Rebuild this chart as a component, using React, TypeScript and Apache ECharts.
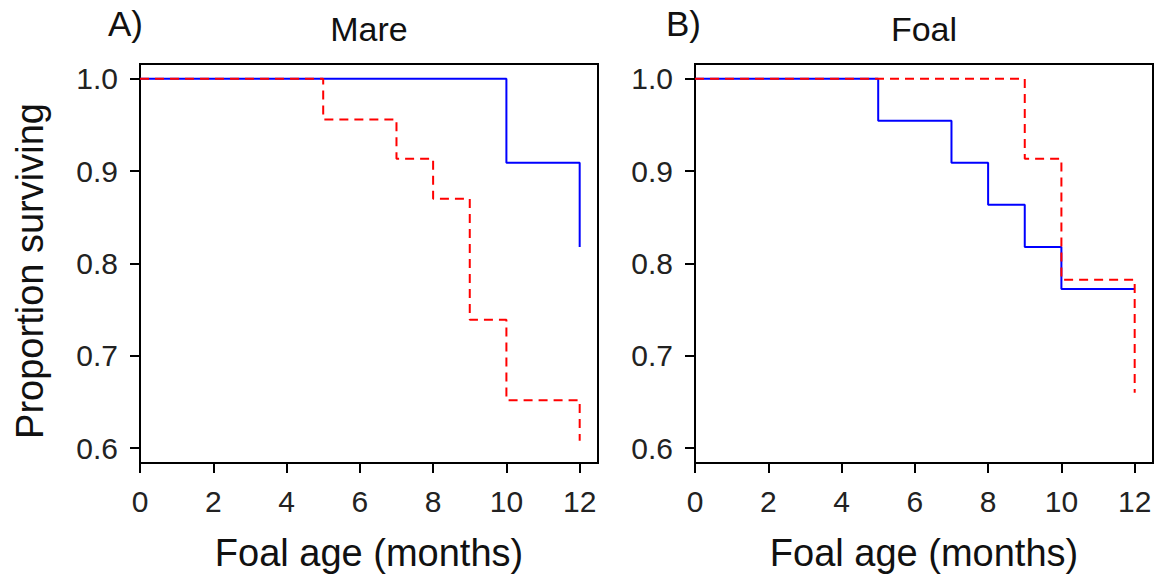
import React, { useEffect, useRef } from "react";
import * as echarts from "echarts";

const xTicks = [0, 2, 4, 6, 8, 10, 12];
const yTicks = [0.6, 0.7, 0.8, 0.9, 1.0];

const mareBlueTimes = [0, 10, 12];
const mareBlueSurv = [1.0, 0.909, 0.818];
const mareRedTimes = [0, 5, 7, 8, 9, 10, 12];
const mareRedSurv = [1.0, 0.956, 0.9135, 0.87, 0.739, 0.652, 0.608];

const foalBlueTimes = [0, 5, 7, 8, 9, 10, 12];
const foalBlueSurv = [1.0, 0.9546, 0.909, 0.8635, 0.818, 0.7724, 0.7724];
const foalRedTimes = [0, 9, 10, 12];
const foalRedSurv = [1.0, 0.9135, 0.7825, 0.66];

const panelTitles = ["Mare", "Foal"];
const panelLetters = ["A)", "B)"];
const xTitle = "Foal age (months)";
const yTitle = "Proportion surviving";

const FONT = "'Liberation Sans', Arial, sans-serif";

const zip = (t: number[], s: number[]) => t.map((v, i) => [v, s[i]]);

export default function App() {
  const ref = useRef<HTMLDivElement>(null);

  useEffect(() => {
    if (!ref.current) return;
    const chart = echarts.init(ref.current, undefined, { renderer: "svg" });

    const grids = [
      { left: 140, top: 64, width: 458, height: 403 },
      { left: 695, top: 64, width: 458, height: 403 },
    ];

    const xAxis = grids.map((_, i) => ({
      type: "value",
      gridIndex: i,
      min: 0,
      max: 12.5,
      axisLine: { show: true, lineStyle: { color: "#000", width: 2 } },
      axisTick: {
        show: true,
        length: 10,
        customValues: xTicks,
        lineStyle: { color: "#000", width: 2 },
      },
      axisLabel: {
        customValues: xTicks,
        fontSize: 30,
        color: "#222",
        margin: 23,
        fontFamily: FONT,
      },
      splitLine: { show: false },
      name: xTitle,
      nameLocation: "middle",
      nameGap: 71,
      nameTextStyle: { fontSize: 38, color: "#111", fontFamily: FONT },
    }));

    const yAxis = grids.map((_, i) => ({
      type: "value",
      gridIndex: i,
      min: 0.584,
      max: 1.016,
      axisLine: { show: true, lineStyle: { color: "#000", width: 2 } },
      axisTick: {
        show: true,
        length: 10,
        customValues: yTicks,
        lineStyle: { color: "#000", width: 2 },
      },
      axisLabel: {
        customValues: yTicks,
        fontSize: 30,
        color: "#222",
        margin: 22,
        fontFamily: FONT,
        formatter: (v: number) => v.toFixed(1),
      },
      splitLine: { show: false },
    }));

    const blue = { color: "#0000ff", width: 2 };
    const red = { color: "#ff0000", width: 2, type: [9, 6] };

    const mk = (name: string, idx: number, data: number[][], ls: any) => ({
      name,
      type: "line",
      xAxisIndex: idx,
      yAxisIndex: idx,
      step: "end",
      symbol: "none",
      showSymbol: false,
      data,
      lineStyle: ls,
      itemStyle: { color: ls.color },
    });

    const graphic: any[] = [];
    grids.forEach((g, i) => {
      graphic.push({
        type: "text",
        x: g.left + g.width / 2,
        y: 12,
        style: {
          text: panelTitles[i],
          font: `34px ${FONT}`,
          fill: "#111",
          textAlign: "center",
          textVerticalAlign: "top",
        },
      });
      graphic.push({
        type: "text",
        x: i === 0 ? 108 : 666,
        y: 6,
        style: {
          text: panelLetters[i],
          font: `35px ${FONT}`,
          fill: "#111",
          textAlign: "left",
          textVerticalAlign: "top",
        },
      });
    });
    graphic.push({
      type: "text",
      x: 30,
      y: 271,
      rotation: Math.PI / 2,
      style: {
        text: yTitle,
        font: `38px ${FONT}`,
        fill: "#111",
        textAlign: "center",
        textVerticalAlign: "middle",
      },
    });

    chart.setOption({
      animation: false,
      backgroundColor: "#fff",
      grid: grids.map((g) => ({
        ...g,
        show: true,
        borderColor: "#000",
        borderWidth: 2,
        containLabel: false,
      })),
      xAxis,
      yAxis,
      graphic,
      series: [
        mk("Mare blue", 0, zip(mareBlueTimes, mareBlueSurv), blue),
        mk("Mare red", 0, zip(mareRedTimes, mareRedSurv), red),
        mk("Foal blue", 1, zip(foalBlueTimes, foalBlueSurv), blue),
        mk("Foal red", 1, zip(foalRedTimes, foalRedSurv), red),
      ],
    });

    return () => chart.dispose();
  }, []);

  return (
    <div
      ref={ref}
      style={{ position: "fixed", left: 0, top: 0, width: 1167, height: 577 }}
    />
  );
}
